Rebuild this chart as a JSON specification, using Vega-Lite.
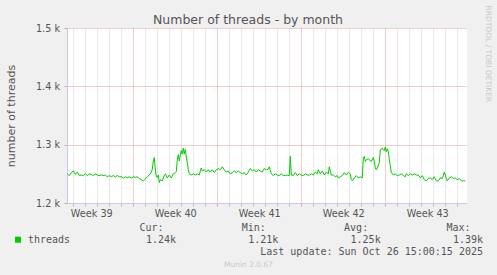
{
  "$schema": "https://vega.github.io/schema/vega-lite/v6.json",
  "autosize": "none",
  "width": 400,
  "height": 175,
  "padding": {"left": 67, "top": 28, "right": 30, "bottom": 72},
  "background": "#f0f0f0",
  "config": {"view": {"fill": "#ffffff", "stroke": null}, "font": "DejaVu Sans"},
  "title": {"text": "Number of threads - by month", "font": "DejaVu Sans", "fontSize": 12.5, "fontWeight": "normal", "color": "#555555", "anchor": "middle", "frame": "group", "dx": -19, "offset": 0, "dy": 31, "baseline": "alphabetic"},
  "datasets": {
    "threads": [
      {"t":"2025-09-23T12:00:00Z","v":1250},{"t":"2025-09-23T16:00:00Z","v":1247},{"t":"2025-09-23T20:00:00Z","v":1252},
      {"t":"2025-09-24T00:00:00Z","v":1255},{"t":"2025-09-24T04:00:00Z","v":1249},{"t":"2025-09-24T08:00:00Z","v":1253},{"t":"2025-09-24T12:00:00Z","v":1247},{"t":"2025-09-24T16:00:00Z","v":1248},{"t":"2025-09-24T20:00:00Z","v":1247},
      {"t":"2025-09-25T00:00:00Z","v":1250},{"t":"2025-09-25T04:00:00Z","v":1247},{"t":"2025-09-25T08:00:00Z","v":1250},{"t":"2025-09-25T12:00:00Z","v":1249},{"t":"2025-09-25T16:00:00Z","v":1247},{"t":"2025-09-25T20:00:00Z","v":1250},
      {"t":"2025-09-26T00:00:00Z","v":1248},{"t":"2025-09-26T04:00:00Z","v":1247},{"t":"2025-09-26T08:00:00Z","v":1248},{"t":"2025-09-26T12:00:00Z","v":1247},{"t":"2025-09-26T16:00:00Z","v":1248},{"t":"2025-09-26T20:00:00Z","v":1245},
      {"t":"2025-09-27T00:00:00Z","v":1247},{"t":"2025-09-27T04:00:00Z","v":1245},{"t":"2025-09-27T08:00:00Z","v":1247},{"t":"2025-09-27T12:00:00Z","v":1245},{"t":"2025-09-27T16:00:00Z","v":1247},{"t":"2025-09-27T20:00:00Z","v":1245},
      {"t":"2025-09-28T00:00:00Z","v":1245},{"t":"2025-09-28T04:00:00Z","v":1243},{"t":"2025-09-28T08:00:00Z","v":1245},{"t":"2025-09-28T12:00:00Z","v":1243},{"t":"2025-09-28T16:00:00Z","v":1245},{"t":"2025-09-28T20:00:00Z","v":1243},
      {"t":"2025-09-29T00:00:00Z","v":1245},{"t":"2025-09-29T04:00:00Z","v":1244},{"t":"2025-09-29T08:00:00Z","v":1245},{"t":"2025-09-29T12:00:00Z","v":1242},{"t":"2025-09-29T16:00:00Z","v":1240},{"t":"2025-09-29T20:00:00Z","v":1238},
      {"t":"2025-09-30T00:00:00Z","v":1241},{"t":"2025-09-30T04:00:00Z","v":1245},{"t":"2025-09-30T08:00:00Z","v":1248},{"t":"2025-09-30T12:00:00Z","v":1253},{"t":"2025-09-30T14:00:00Z","v":1258},{"t":"2025-09-30T16:00:00Z","v":1272},{"t":"2025-09-30T18:00:00Z","v":1278},{"t":"2025-09-30T20:00:00Z","v":1258},{"t":"2025-09-30T22:00:00Z","v":1245},
      {"t":"2025-10-01T00:00:00Z","v":1244},{"t":"2025-10-01T02:00:00Z","v":1248},{"t":"2025-10-01T04:00:00Z","v":1235},{"t":"2025-10-01T06:00:00Z","v":1240},{"t":"2025-10-01T10:00:00Z","v":1238},{"t":"2025-10-01T14:00:00Z","v":1247},{"t":"2025-10-01T16:00:00Z","v":1250},{"t":"2025-10-01T20:00:00Z","v":1243},
      {"t":"2025-10-02T00:00:00Z","v":1248},{"t":"2025-10-02T04:00:00Z","v":1243},{"t":"2025-10-02T08:00:00Z","v":1250},{"t":"2025-10-02T12:00:00Z","v":1252},{"t":"2025-10-02T14:00:00Z","v":1254},{"t":"2025-10-02T16:00:00Z","v":1274},{"t":"2025-10-02T18:00:00Z","v":1283},{"t":"2025-10-02T20:00:00Z","v":1272},{"t":"2025-10-02T22:00:00Z","v":1282},
      {"t":"2025-10-03T00:00:00Z","v":1290},{"t":"2025-10-03T02:00:00Z","v":1284},{"t":"2025-10-03T04:00:00Z","v":1294},{"t":"2025-10-03T06:00:00Z","v":1284},{"t":"2025-10-03T08:00:00Z","v":1292},{"t":"2025-10-03T10:00:00Z","v":1279},{"t":"2025-10-03T12:00:00Z","v":1269},{"t":"2025-10-03T14:00:00Z","v":1257},{"t":"2025-10-03T16:00:00Z","v":1250},{"t":"2025-10-03T20:00:00Z","v":1248},
      {"t":"2025-10-04T00:00:00Z","v":1250},{"t":"2025-10-04T04:00:00Z","v":1248},{"t":"2025-10-04T08:00:00Z","v":1250},{"t":"2025-10-04T12:00:00Z","v":1248},{"t":"2025-10-04T14:00:00Z","v":1255},{"t":"2025-10-04T16:00:00Z","v":1260},{"t":"2025-10-04T18:00:00Z","v":1255},{"t":"2025-10-04T22:00:00Z","v":1257},
      {"t":"2025-10-05T02:00:00Z","v":1253},{"t":"2025-10-05T06:00:00Z","v":1257},{"t":"2025-10-05T10:00:00Z","v":1253},{"t":"2025-10-05T14:00:00Z","v":1257},{"t":"2025-10-05T18:00:00Z","v":1252},{"t":"2025-10-05T22:00:00Z","v":1257},
      {"t":"2025-10-06T02:00:00Z","v":1259},{"t":"2025-10-06T06:00:00Z","v":1257},{"t":"2025-10-06T10:00:00Z","v":1262},{"t":"2025-10-06T14:00:00Z","v":1257},{"t":"2025-10-06T18:00:00Z","v":1253},{"t":"2025-10-06T22:00:00Z","v":1255},
      {"t":"2025-10-07T02:00:00Z","v":1250},{"t":"2025-10-07T06:00:00Z","v":1252},{"t":"2025-10-07T10:00:00Z","v":1255},{"t":"2025-10-07T14:00:00Z","v":1252},{"t":"2025-10-07T18:00:00Z","v":1255},{"t":"2025-10-07T22:00:00Z","v":1252},
      {"t":"2025-10-08T02:00:00Z","v":1250},{"t":"2025-10-08T06:00:00Z","v":1252},{"t":"2025-10-08T10:00:00Z","v":1248},{"t":"2025-10-08T14:00:00Z","v":1253},{"t":"2025-10-08T18:00:00Z","v":1259},{"t":"2025-10-08T22:00:00Z","v":1255},
      {"t":"2025-10-09T02:00:00Z","v":1257},{"t":"2025-10-09T06:00:00Z","v":1253},{"t":"2025-10-09T10:00:00Z","v":1257},{"t":"2025-10-09T14:00:00Z","v":1255},{"t":"2025-10-09T18:00:00Z","v":1253},{"t":"2025-10-09T22:00:00Z","v":1259},
      {"t":"2025-10-10T02:00:00Z","v":1257},{"t":"2025-10-10T06:00:00Z","v":1258},{"t":"2025-10-10T08:00:00Z","v":1262},{"t":"2025-10-10T12:00:00Z","v":1250},{"t":"2025-10-10T16:00:00Z","v":1247},{"t":"2025-10-10T20:00:00Z","v":1250},
      {"t":"2025-10-11T00:00:00Z","v":1248},{"t":"2025-10-11T04:00:00Z","v":1247},{"t":"2025-10-11T08:00:00Z","v":1250},{"t":"2025-10-11T12:00:00Z","v":1247},{"t":"2025-10-11T16:00:00Z","v":1247},{"t":"2025-10-11T20:00:00Z","v":1248},
      {"t":"2025-10-12T00:00:00Z","v":1247},{"t":"2025-10-12T02:00:00Z","v":1280},{"t":"2025-10-12T04:00:00Z","v":1248},{"t":"2025-10-12T08:00:00Z","v":1247},{"t":"2025-10-12T12:00:00Z","v":1252},{"t":"2025-10-12T16:00:00Z","v":1247},{"t":"2025-10-12T20:00:00Z","v":1250},
      {"t":"2025-10-13T00:00:00Z","v":1248},{"t":"2025-10-13T04:00:00Z","v":1247},{"t":"2025-10-13T08:00:00Z","v":1250},{"t":"2025-10-13T12:00:00Z","v":1248},{"t":"2025-10-13T16:00:00Z","v":1248},{"t":"2025-10-13T20:00:00Z","v":1250},
      {"t":"2025-10-14T00:00:00Z","v":1248},{"t":"2025-10-14T04:00:00Z","v":1253},{"t":"2025-10-14T08:00:00Z","v":1250},{"t":"2025-10-14T10:00:00Z","v":1257},{"t":"2025-10-14T14:00:00Z","v":1250},{"t":"2025-10-14T18:00:00Z","v":1255},{"t":"2025-10-14T22:00:00Z","v":1248},
      {"t":"2025-10-15T02:00:00Z","v":1253},{"t":"2025-10-15T06:00:00Z","v":1250},{"t":"2025-10-15T08:00:00Z","v":1262},{"t":"2025-10-15T12:00:00Z","v":1248},{"t":"2025-10-15T16:00:00Z","v":1248},{"t":"2025-10-15T20:00:00Z","v":1245},
      {"t":"2025-10-16T00:00:00Z","v":1247},{"t":"2025-10-16T02:00:00Z","v":1243},{"t":"2025-10-16T06:00:00Z","v":1245},{"t":"2025-10-16T10:00:00Z","v":1247},{"t":"2025-10-16T14:00:00Z","v":1252},{"t":"2025-10-16T18:00:00Z","v":1248},{"t":"2025-10-16T22:00:00Z","v":1253},
      {"t":"2025-10-17T02:00:00Z","v":1250},{"t":"2025-10-17T04:00:00Z","v":1240},{"t":"2025-10-17T06:00:00Z","v":1238},{"t":"2025-10-17T10:00:00Z","v":1243},{"t":"2025-10-17T14:00:00Z","v":1247},{"t":"2025-10-17T18:00:00Z","v":1243},{"t":"2025-10-17T22:00:00Z","v":1245},
      {"t":"2025-10-18T02:00:00Z","v":1243},{"t":"2025-10-18T04:00:00Z","v":1278},{"t":"2025-10-18T06:00:00Z","v":1280},{"t":"2025-10-18T08:00:00Z","v":1271},{"t":"2025-10-18T10:00:00Z","v":1274},{"t":"2025-10-18T14:00:00Z","v":1276},{"t":"2025-10-18T18:00:00Z","v":1272},{"t":"2025-10-18T20:00:00Z","v":1271},
      {"t":"2025-10-19T00:00:00Z","v":1278},{"t":"2025-10-19T02:00:00Z","v":1271},{"t":"2025-10-19T04:00:00Z","v":1260},{"t":"2025-10-19T06:00:00Z","v":1257},{"t":"2025-10-19T08:00:00Z","v":1260},{"t":"2025-10-19T12:00:00Z","v":1269},{"t":"2025-10-19T14:00:00Z","v":1291},{"t":"2025-10-19T18:00:00Z","v":1294},{"t":"2025-10-19T20:00:00Z","v":1291},{"t":"2025-10-19T22:00:00Z","v":1290},
      {"t":"2025-10-20T00:00:00Z","v":1296},{"t":"2025-10-20T02:00:00Z","v":1288},{"t":"2025-10-20T04:00:00Z","v":1293},{"t":"2025-10-20T06:00:00Z","v":1288},{"t":"2025-10-20T08:00:00Z","v":1274},{"t":"2025-10-20T10:00:00Z","v":1264},{"t":"2025-10-20T12:00:00Z","v":1252},{"t":"2025-10-20T16:00:00Z","v":1248},{"t":"2025-10-20T20:00:00Z","v":1250},
      {"t":"2025-10-21T00:00:00Z","v":1247},{"t":"2025-10-21T04:00:00Z","v":1248},{"t":"2025-10-21T08:00:00Z","v":1250},{"t":"2025-10-21T12:00:00Z","v":1247},{"t":"2025-10-21T16:00:00Z","v":1245},{"t":"2025-10-21T18:00:00Z","v":1250},{"t":"2025-10-21T22:00:00Z","v":1247},
      {"t":"2025-10-22T02:00:00Z","v":1250},{"t":"2025-10-22T06:00:00Z","v":1248},{"t":"2025-10-22T10:00:00Z","v":1250},{"t":"2025-10-22T14:00:00Z","v":1248},{"t":"2025-10-22T18:00:00Z","v":1248},{"t":"2025-10-22T22:00:00Z","v":1243},
      {"t":"2025-10-23T02:00:00Z","v":1247},{"t":"2025-10-23T06:00:00Z","v":1240},{"t":"2025-10-23T10:00:00Z","v":1238},{"t":"2025-10-23T14:00:00Z","v":1242},{"t":"2025-10-23T18:00:00Z","v":1243},{"t":"2025-10-23T22:00:00Z","v":1240},
      {"t":"2025-10-24T02:00:00Z","v":1245},{"t":"2025-10-24T06:00:00Z","v":1238},{"t":"2025-10-24T10:00:00Z","v":1238},{"t":"2025-10-24T14:00:00Z","v":1243},{"t":"2025-10-24T18:00:00Z","v":1242},{"t":"2025-10-24T22:00:00Z","v":1253},
      {"t":"2025-10-25T02:00:00Z","v":1242},{"t":"2025-10-25T04:00:00Z","v":1238},{"t":"2025-10-25T08:00:00Z","v":1243},{"t":"2025-10-25T12:00:00Z","v":1245},{"t":"2025-10-25T16:00:00Z","v":1242},{"t":"2025-10-25T20:00:00Z","v":1243},
      {"t":"2025-10-26T00:00:00Z","v":1240},{"t":"2025-10-26T04:00:00Z","v":1242},{"t":"2025-10-26T08:00:00Z","v":1238},{"t":"2025-10-26T12:00:00Z","v":1238},{"t":"2025-10-26T16:00:00Z","v":1238}
    ],
    "stats": [
      {"stat": "Cur:", "value": "1.24k"},
      {"stat": "Min:", "value": "1.21k"},
      {"stat": "Avg:", "value": "1.25k"},
      {"stat": "Max:", "value": "1.39k"}
    ],
    "note": [
      {"note": "Last update: Sun Oct 26 15:00:15 2025"}
    ]
  },
  "layer": [
    {
      "data": {"name": "threads"},
      "mark": {"type": "line", "strokeWidth": 1},
      "encoding": {
        "x": {
          "field": "t", "type": "temporal",
          "scale": {"type": "utc", "nice": false, "domain": [
            {"year": 2025, "month": 9, "date": 23, "hours": 11, "minutes": 24, "utc": true},
            {"year": 2025, "month": 10, "date": 26, "hours": 19, "minutes": 24, "utc": true}
          ]},
          "axis": {
            "title": "Munin 2.0.67", "titleX": 181, "titleY": 61, "titleFont": "DejaVu Sans", "titleFontSize": 7.5, "titleFontWeight": "normal", "titleColor": "#c8c8c8", "titleAlign": "center", "titleBaseline": "middle",
            "values": [
              {"year": 2025, "month": 9, "date": 24, "utc": true},
              {"year": 2025, "month": 9, "date": 25, "utc": true},
              {"year": 2025, "month": 9, "date": 25, "hours": 12, "utc": true},
              {"year": 2025, "month": 9, "date": 26, "utc": true},
              {"year": 2025, "month": 9, "date": 27, "utc": true},
              {"year": 2025, "month": 9, "date": 28, "utc": true},
              {"year": 2025, "month": 9, "date": 29, "utc": true},
              {"year": 2025, "month": 9, "date": 30, "utc": true},
              {"year": 2025, "month": 10, "date": 1, "utc": true},
              {"year": 2025, "month": 10, "date": 2, "utc": true},
              {"year": 2025, "month": 10, "date": 2, "hours": 12, "utc": true},
              {"year": 2025, "month": 10, "date": 3, "utc": true},
              {"year": 2025, "month": 10, "date": 4, "utc": true},
              {"year": 2025, "month": 10, "date": 5, "utc": true},
              {"year": 2025, "month": 10, "date": 6, "utc": true},
              {"year": 2025, "month": 10, "date": 7, "utc": true},
              {"year": 2025, "month": 10, "date": 8, "utc": true},
              {"year": 2025, "month": 10, "date": 9, "utc": true},
              {"year": 2025, "month": 10, "date": 9, "hours": 12, "utc": true},
              {"year": 2025, "month": 10, "date": 10, "utc": true},
              {"year": 2025, "month": 10, "date": 11, "utc": true},
              {"year": 2025, "month": 10, "date": 12, "utc": true},
              {"year": 2025, "month": 10, "date": 13, "utc": true},
              {"year": 2025, "month": 10, "date": 14, "utc": true},
              {"year": 2025, "month": 10, "date": 15, "utc": true},
              {"year": 2025, "month": 10, "date": 16, "utc": true},
              {"year": 2025, "month": 10, "date": 16, "hours": 12, "utc": true},
              {"year": 2025, "month": 10, "date": 17, "utc": true},
              {"year": 2025, "month": 10, "date": 18, "utc": true},
              {"year": 2025, "month": 10, "date": 19, "utc": true},
              {"year": 2025, "month": 10, "date": 20, "utc": true},
              {"year": 2025, "month": 10, "date": 21, "utc": true},
              {"year": 2025, "month": 10, "date": 22, "utc": true},
              {"year": 2025, "month": 10, "date": 23, "utc": true},
              {"year": 2025, "month": 10, "date": 23, "hours": 12, "utc": true},
              {"year": 2025, "month": 10, "date": 24, "utc": true},
              {"year": 2025, "month": 10, "date": 25, "utc": true},
              {"year": 2025, "month": 10, "date": 26, "utc": true}
            ],
            "labelExpr": "utcday(datum.value) === 4 && utchours(datum.value) === 12 ? 'Week ' + utcFormat(datum.value, '%V') : ''",
            "labelOverlap": false, "labelFlush": false, "labelAngle": 0, "labelAlign": "center", "labelBaseline": "middle", "labelPadding": 7,
            "labelFont": "DejaVu Sans", "labelFontSize": 9.7, "labelColor": "#555555",
            "grid": true, "gridDash": [1, 1],
            "gridColor": {"condition": {"test": "utcday(datum.value) === 1 && utchours(datum.value) === 0", "value": "#e89a9a"}, "value": "#d2d2d2"},
            "gridOpacity": {"condition": {"test": "utchours(datum.value) === 0", "value": 1}, "value": 0},
            "ticks": true, "tickSize": 3,
            "tickColor": {"condition": {"test": "utcday(datum.value) === 1 && utchours(datum.value) === 0", "value": "#e89a9a"}, "value": "#bbbbbb"},
            "tickOpacity": {"condition": {"test": "utchours(datum.value) === 0", "value": 1}, "value": 0},
            "domainColor": "#c8c8f4", "domainWidth": 1
          }
        },
        "y": {
          "field": "v", "type": "quantitative",
          "scale": {"domain": [1200, 1500], "nice": false, "zero": false},
          "axis": {
            "title": "number of threads", "titleFont": "DejaVu Sans", "titleFontSize": 11, "titleFontWeight": "normal", "titleColor": "#555555",
            "titleX": -56, "titleY": 87.5, "titleAngle": 270, "titleAlign": "center", "titleBaseline": "middle",
            "values": [1200, 1300, 1400, 1500],
            "labelExpr": "format(datum.value / 1000, '.1f') + ' k'",
            "labelFont": "DejaVu Sans", "labelFontSize": 9.7, "labelColor": "#555555", "labelPadding": 4.5, "labelFlush": false,
            "grid": true, "gridColor": "#e89a9a", "gridDash": [1, 1],
            "tickColor": "#e89a9a", "tickSize": 3,
            "domainColor": "#c8c8f4"
          }
        },
        "color": {
          "datum": "threads", "type": "nominal",
          "scale": {"range": ["#00cc00"]},
          "legend": {
            "orient": "none", "legendX": -54, "legendY": 206.7, "title": null, "padding": 0,
            "symbolType": "square", "symbolSize": 36, "symbolFillColor": "#00cc00", "symbolStrokeWidth": 0,
            "labelFont": "DejaVu Sans Mono", "labelFontSize": 10, "labelColor": "#555555", "labelOffset": 5
          }
        }
      }
    },
    {
      "data": {"name": "stats"},
      "layer": [
        {
          "mark": {"type": "text", "align": "right", "baseline": "middle", "dx": -12.5, "font": "DejaVu Sans Mono", "fontSize": 10, "color": "#555555"},
          "encoding": {
            "x": {"field": "stat", "type": "nominal", "scale": {"type": "point", "domain": ["Cur:", "Min:", "Avg:", "Max:"], "range": [109, 416], "padding": 0}, "axis": null},
            "y": {"datum": "head", "type": "nominal", "scale": {"type": "point", "domain": ["head", "value", "update"], "range": [199.7, 223.7], "padding": 0},
              "axis": {"orient": "right", "labels": false, "ticks": false, "domain": false, "grid": false,
                "title": "RRDTOOL / TOBI OETIKER", "titleAngle": 90, "titleX": 20, "titleY": -23, "titleAlign": "left", "titleBaseline": "middle",
                "titleFont": "DejaVu Sans", "titleFontSize": 7.5, "titleFontWeight": "normal", "titleColor": "#c8c8c8"}},
            "text": {"field": "stat"}
          }
        },
        {
          "mark": {"type": "text", "align": "right", "baseline": "middle", "font": "DejaVu Sans Mono", "fontSize": 10, "color": "#555555"},
          "encoding": {
            "x": {"field": "stat", "type": "nominal", "axis": null},
            "y": {"datum": "value", "type": "nominal"},
            "text": {"field": "value"}
          }
        },
        {
          "data": {"name": "note"},
          "mark": {"type": "text", "align": "right", "baseline": "middle", "font": "DejaVu Sans Mono", "fontSize": 10, "color": "#555555"},
          "encoding": {
            "x": {"datum": "Max:", "type": "nominal", "axis": null},
            "y": {"datum": "update", "type": "nominal"},
            "text": {"field": "note"}
          }
        }
      ]
    }
  ],
  "resolve": {"scale": {"x": "independent", "y": "independent"}}
}
